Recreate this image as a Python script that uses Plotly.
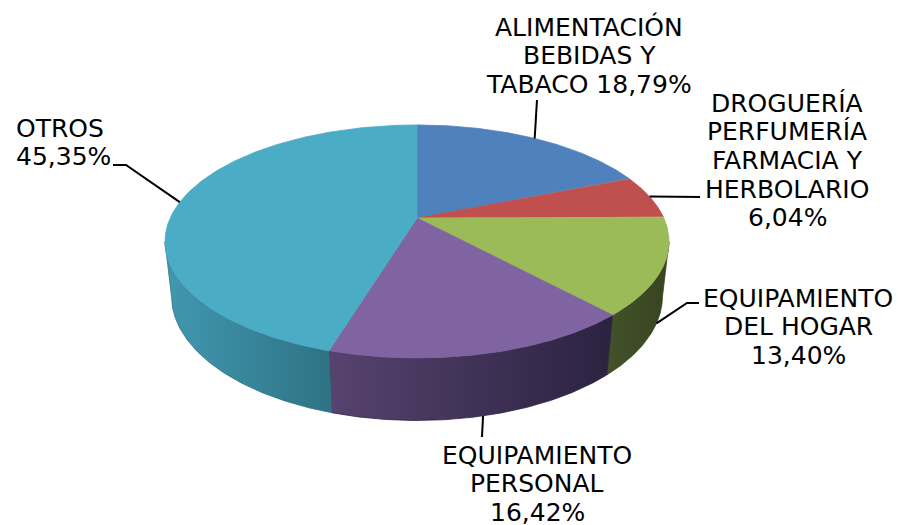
import numpy as np
import plotly.graph_objects as go

# ---------------- data ----------------
categories = [
    "ALIMENTACIÓN BEBIDAS Y TABACO",
    "DROGUERÍA PERFUMERÍA FARMACIA Y HERBOLARIO",
    "EQUIPAMIENTO DEL HOGAR",
    "EQUIPAMIENTO PERSONAL",
    "OTROS",
]
values = [18.79, 6.04, 13.40, 16.42, 45.35]
label_lines = [
    ["ALIMENTACIÓN", "BEBIDAS Y", "TABACO {p}"],
    ["DROGUERÍA", "PERFUMERÍA", "FARMACIA Y", "HERBOLARIO", "{p}"],
    ["EQUIPAMIENTO", "DEL HOGAR", "{p}"],
    ["EQUIPAMIENTO", "PERSONAL", "{p}"],
    ["OTROS", "{p}"],
]

# ---------------- style ----------------
top_colors = ["#4F81BD", "#C0504D", "#9BBB59", "#8064A2", "#4BACC6"]
wall_colors = [
    ["#3c6596", "#2f5078"],
    ["#9a3d3a", "#7a2f2d"],
    ["#43522a", "#38441f"],
    ["#56436f", "#2b2240"],
    ["#4198b0", "#2e7284"],
]
label_pos = [  # (x center / left, y of first line, anchor)
    (589, 27, "center"),
    (787, 103, "center"),
    (798, 298, "center"),
    (537, 455, "center"),
    (14, 128, "left"),
]
LINE_H = 28.7
leader_on_wall = [False, False, True, True, False]
leader_outer = [
    [(537, 100)],
    [(700, 197)],
    [(687, 303), (699, 303)],
    [(482, 437)],
    [(126, 165), (113, 165)],
]

W, Hpx = 898, 525
CX, CY = 417, 218
SIN_A = 0.453
COS_A = float(np.sqrt(1 - SIN_A ** 2))
D = 4.42
F = 1091.0
THICK = 0.25


def proj(th_deg, r=1.0, Y=0.0):
    th = np.radians(th_deg)
    X = r * np.sin(th)
    Z = r * np.cos(th)
    depth = D + Z * COS_A - Y * SIN_A
    up = Y * COS_A + Z * SIN_A
    return CX + F * X / depth, CY - F * up / depth


total = sum(values)
bounds = np.concatenate([[0.0], np.cumsum(values) / total * 360.0])
th_sil = np.degrees(np.arccos(-COS_A / D))

fig = go.Figure()

# side walls (front-facing part only)
for i in range(len(values)):
    lo = max(bounds[i], th_sil)
    hi = min(bounds[i + 1], 360 - th_sil)
    if hi <= lo:
        continue
    ts = np.linspace(lo, hi, 120)
    xt, yt = proj(ts)
    xb, yb = proj(ts[::-1], 1.0, -THICK)
    xs = np.concatenate([xt, xb, xt[:1]])
    ys = np.concatenate([yt, yb, yt[:1]])
    fig.add_trace(go.Scatter(
        x=xs, y=ys, mode="lines", fill="toself",
        line=dict(width=0.8, color=wall_colors[i][1]),
        fillgradient=dict(type="horizontal",
                          colorscale=[[0, wall_colors[i][0]], [1, wall_colors[i][1]]]),
        hoverinfo="skip", showlegend=False,
    ))

# top faces
for i in range(len(values)):
    ts = np.linspace(bounds[i], bounds[i + 1], 200)
    xa, ya = proj(ts)
    xs = np.concatenate([[CX], xa, [CX]])
    ys = np.concatenate([[CY], ya, [CY]])
    fig.add_trace(go.Scatter(
        x=xs, y=ys, mode="lines", fill="toself",
        fillcolor=top_colors[i], line=dict(width=0.8, color=top_colors[i]),
        hoverinfo="skip", showlegend=False,
    ))

# leader lines
for i in range(len(values)):
    mid = (bounds[i] + bounds[i + 1]) / 2
    if leader_on_wall[i]:
        ix, iy = proj(mid, 1.0, -THICK)
    else:
        ix, iy = proj(mid)
    pts = [(float(ix), float(iy))] + leader_outer[i]
    fig.add_trace(go.Scatter(
        x=[p[0] for p in pts], y=[p[1] for p in pts], mode="lines",
        line=dict(color="black", width=2),
        hoverinfo="skip", showlegend=False,
    ))

# labels
annotations = []
for i, lines in enumerate(label_lines):
    pct = f"{values[i]:.2f}".replace(".", ",") + "%"
    x0, y0, anchor = label_pos[i]
    for k, ln in enumerate(lines):
        annotations.append(dict(
            x=x0, y=y0 + k * LINE_H, xref="x", yref="y",
            text=ln.format(p=pct), showarrow=False,
            xanchor=anchor, yanchor="middle",
            font=dict(family="DejaVu Sans", size=25, color="black"),
        ))

fig.update_layout(
    width=W, height=Hpx,
    margin=dict(l=0, r=0, t=0, b=0),
    paper_bgcolor="white", plot_bgcolor="white",
    xaxis=dict(range=[0, W], visible=False, fixedrange=True),
    yaxis=dict(range=[Hpx, 0], visible=False, fixedrange=True),
    annotations=annotations,
    showlegend=False,
)

fig.write_html(
    "out.html",
    post_script="document.body.style.margin='0';document.body.style.overflow='hidden';",
    config={"displayModeBar": False},
)
